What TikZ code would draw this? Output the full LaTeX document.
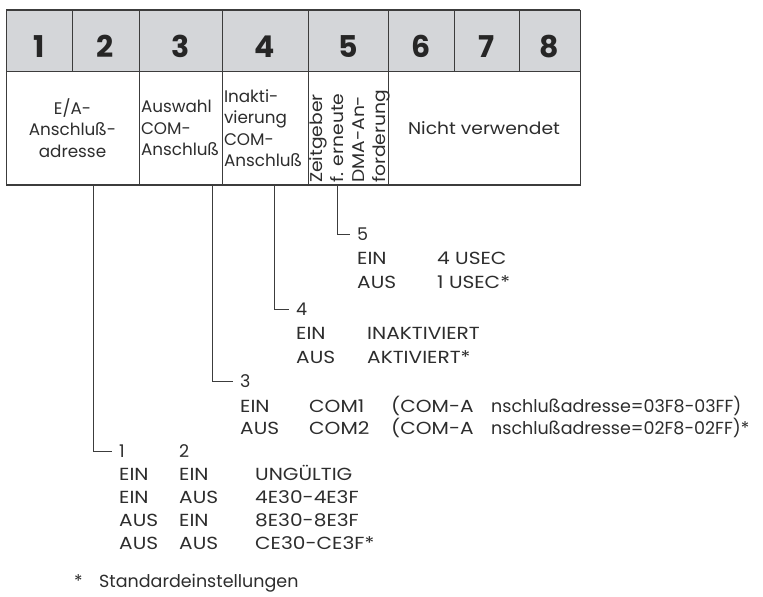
\documentclass[tikz,border=0pt]{standalone}
\usepackage{fontspec}
\setmainfont{Poppins}
\newfontfamily\widecaps[FakeStretch=1.15]{Poppins}
\newfontfamily\widetext[FakeStretch=1.1]{Poppins}
\usepackage{tikz}
\usetikzlibrary{positioning, calc}
\definecolor{hdrgrey}{RGB}{212, 214, 217}
\definecolor{linegrey}{RGB}{60, 60, 60}
\definecolor{textgrey}{RGB}{45, 45, 45}

\begin{document}
\begin{tikzpicture}[
    x=1pt, y=-1pt,
    node distance=0pt,
    hcell/.style={rectangle, draw=linegrey, line width=0.9pt, fill=hdrgrey, outer sep=0pt,
                  minimum height=61pt, inner sep=0pt, text height=33pt, text depth=0pt,
                  font=\fontsize{30}{30}\selectfont\bfseries, text=black!85},
    bcell/.style={rectangle, draw=linegrey, line width=0.9pt, outer sep=0pt,
                  minimum height=114pt, inner sep=2pt, font=\fontsize{16.8}{21.5}\selectfont, text=textgrey},
    txt/.style={anchor=west, inner sep=0pt, text height=12pt, text depth=0pt,
                font=\fontsize{17.5}{21}\selectfont, text=textgrey},
    caps/.style={txt, font=\fontsize{17.5}{21}\selectfont\widecaps},
    lab/.style={txt, inner xsep=7pt},
    conn/.style={draw=linegrey, line width=0.8pt}
]
\useasboundingbox (0,0) rectangle (763,597);

% header row
\node[hcell, minimum width=66pt] (h1) at (39,40.5) {1};
\node[hcell, minimum width=67pt, right=of h1] (h2) {2};
\node[hcell, minimum width=83pt, right=of h2] (h3) {3};
\node[hcell, minimum width=86pt, right=of h3] (h4) {4};
\node[hcell, minimum width=80pt, right=of h4] (h5) {5};
\node[hcell, minimum width=66pt, right=of h5] (h6) {6};
\node[hcell, minimum width=65pt, right=of h6] (h7) {7};
\node[hcell, minimum width=61pt, right=of h7] (h8) {8};

% meaning of the switches
\node[bcell, minimum width=133pt, anchor=north west, align=center] (addr) at (h1.south west) {E/A-\\Anschluß-\\adresse};
\node[bcell, minimum width=83pt, text width=79pt, align=left, right=of addr] (comsel) {Auswahl\\COM-\\Anschluß};
\node[bcell, minimum width=86pt, text width=82pt, align=left, right=of comsel] (cominact) {Inakti-\\vierung\\COM-\\Anschluß};
\node[bcell, minimum width=80pt, right=of cominact] (dmatimer) {};
\node[bcell, minimum width=192pt, right=of dmatimer, font=\fontsize{17}{21.5}\selectfont\widetext] (unused) {Nicht verwendet};
\node[anchor=north west, rotate=90, align=left, inner sep=0pt, font=\fontsize{17}{21}\selectfont\widetext, text=textgrey]
    (dmatext) at ($(dmatimer.south west)+(1,-2)$) {Zeitgeber\\f. erneute\\DMA-An-\\forderung};

\draw[line width=2pt, linegrey] (h1.north west) -- (h8.north east);
\draw[line width=1.6pt, linegrey] (addr.south west) -- (unused.south east);

% switch 5
\node[lab] (sw5) at (350,234) {5};
\node[caps] (sw5on) at (357,258) {EIN};
\node[caps] (sw5onv) at (437,258) {4 USEC};
\node[caps] (sw5off) at (357,282) {AUS};
\node[caps] (sw5offv) at (437,282) {1 USEC*};

% switch 4
\node[lab] (sw4) at (289,309) {4};
\node[caps] (sw4on) at (296,333) {EIN};
\node[caps] (sw4onv) at (367,333) {INAKTIVIERT};
\node[caps] (sw4off) at (296,357) {AUS};
\node[caps] (sw4offv) at (367,357) {AKTIVIERT*};

% switch 3
\node[lab] (sw3) at (233,381) {3};
\node[caps] (sw3on) at (240,406) {EIN};
\node[caps] (sw3onv) at (309,406) {COM1};
\node[caps] (sw3onp) at (391,406) {(COM-A};
\node[txt] (sw3ona) at (491,406) {nschlußadresse=03F8-03FF)};
\node[caps] (sw3off) at (240,428) {AUS};
\node[caps] (sw3offv) at (309,428) {COM2};
\node[caps] (sw3offp) at (391,428) {(COM-A};
\node[txt] (sw3offa) at (491,428) {nschlußadresse=02F8-02FF)*};

% switches 1 and 2
\node[lab] (sw1) at (112,451) {1};
\node[txt] (sw2) at (179,451) {2};
\node[caps] (r1a) at (119,474) {EIN};
\node[caps] (r1b) at (179,474) {EIN};
\node[caps] (r1c) at (255,474) {UNGÜLTIG};
\node[caps] (r2a) at (119,497) {EIN};
\node[caps] (r2b) at (179,497) {AUS};
\node[caps] (r2c) at (255,497) {4E30-4E3F};
\node[caps] (r3a) at (119,520) {AUS};
\node[caps] (r3b) at (179,520) {EIN};
\node[caps] (r3c) at (255,520) {8E30-8E3F};
\node[caps] (r4a) at (119,543) {AUS};
\node[caps] (r4b) at (179,543) {AUS};
\node[caps] (r4c) at (255,543) {CE30-CE3F*};

\node[txt] (star) at (74,581) {*};
\node[txt] (default) at (99,581) {Standardeinstellungen};

% leader lines
\draw[conn] ([xshift=87pt]addr.south west) |- (sw1.west);
\draw[conn] ([xshift=73pt]comsel.south west) |- (sw3.west);
\draw[conn] ([xshift=52pt]cominact.south west) |- (sw4.west);
\draw[conn] ([xshift=29pt]dmatimer.south west) |- (sw5.west);
\end{tikzpicture}
\end{document}
